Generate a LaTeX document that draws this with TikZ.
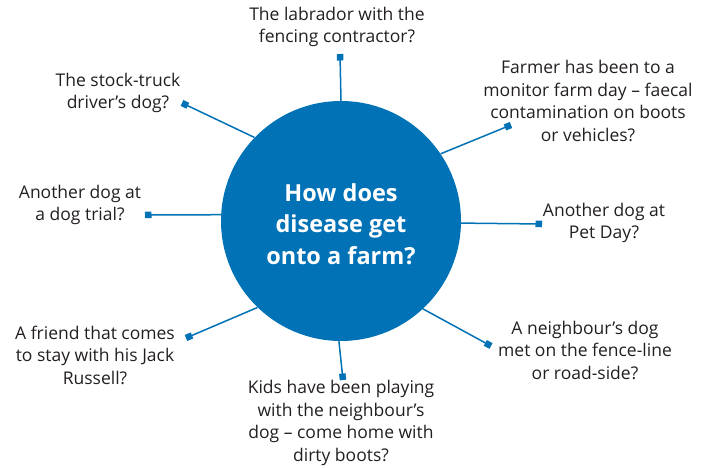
\documentclass[tikz,border=0pt]{standalone}
\usepackage{fontspec}
\setmainfont{Open Sans}
\usetikzlibrary{arrows.meta}
\definecolor{hubblue}{RGB}{0,114,181}
\definecolor{txtgray}{RGB}{35,31,32}
\begin{document}
\begin{tikzpicture}[x=1pt,y=-1pt,
  lbl/.style={align=center,text=txtgray,font=\fontsize{17.5}{22.5}\selectfont,inner sep=0pt},
  conn/.style={draw=hubblue,line width=1.5pt,-{Square[length=6.5pt,width=6.5pt]}}]
\useasboundingbox (0,0) rectangle (707,468);
\node[circle,fill=hubblue,minimum size=240pt,inner sep=0pt] (c) at (341,221) {};
\node[text=white,align=center,font=\fontsize{23.5}{31.5}\selectfont\bfseries] (ct) at (341,224) {How does\\disease get\\onto a farm?};
% end points
\coordinate (p1) at (340,54);
\coordinate (p2) at (182,103);
\coordinate (p3) at (145,215);
\coordinate (p4) at (511,125);
\coordinate (p5) at (542,224);
\coordinate (p6) at (186,338);
\coordinate (p7) at (343,380);
\coordinate (p8) at (491,346);
\draw[conn] (c.90.5) -- (p1);
\draw[conn] (c.136) -- (p2);
\draw[conn] (c.177) -- (p3);
\draw[conn] (c.34.5) -- (p4);
\draw[conn] (c.-1.5) -- (p5);
\draw[conn] (c.226) -- (p6);
\draw[conn] (c.269) -- (p7);
\draw[conn] (c.313) -- (p8);
% labels
\node[lbl] (l1) at (337,27) {The labrador with the\\fencing contractor?};
\node[lbl] (l2) at (118,93) {The stock-truck\\driver’s dog?};
\node[lbl] (l3) at (80,205) {Another dog at\\a dog trial?};
\node[lbl] (l4) at (588,101) {Farmer has been to a\\monitor farm day – faecal\\contamination on boots\\or vehicles?};
\node[lbl] (l5) at (604,223) {Another dog at\\Pet Day?};
\node[lbl] (l6) at (95,355) {A friend that comes\\to stay with his Jack\\Russell?};
\node[lbl] (l7) at (341,423) {Kids have been playing\\with the neighbour’s\\dog – come home with\\dirty boots?};
\node[lbl] (l8) at (585,350) {A neighbour’s dog\\met on the fence-line\\or road-side?};
\end{tikzpicture}
\end{document}
